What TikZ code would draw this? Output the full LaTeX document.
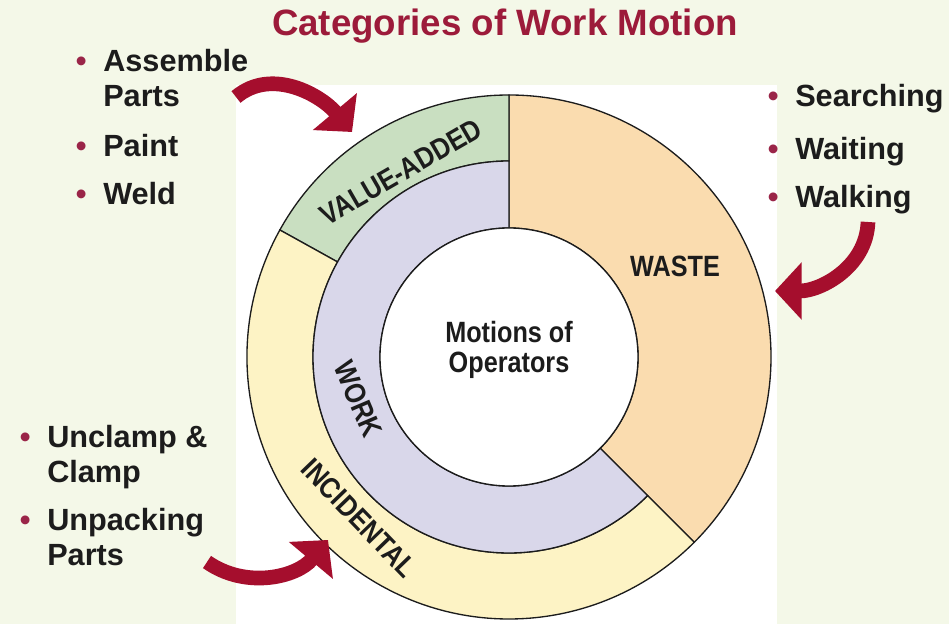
\documentclass[tikz,border=0pt]{standalone}
\usepackage{fontspec}
\setmainfont{Liberation Sans}
\newfontfamily\labelfont{Liberation Sans}[FakeStretch=0.86]
\usetikzlibrary{arrows.meta,calc}

\definecolor{bgcream}{HTML}{F4F8E8}
\definecolor{titlered}{HTML}{9C1B3A}
\definecolor{arrowred}{HTML}{A50E2D}
\definecolor{dotred}{HTML}{9A2548}
\definecolor{vagreen}{HTML}{C9DFC1}
\definecolor{wastepeach}{HTML}{FADCAF}
\definecolor{incyellow}{HTML}{FDF3C5}
\definecolor{worklilac}{HTML}{D9D7EA}
\definecolor{inkblack}{HTML}{1C1C1C}

\tikzset{
  ring/.style={draw=inkblack, line width=1pt},
  ringlabel/.style={font=\labelfont\bfseries\fontsize{22}{22}\selectfont, text=inkblack, inner sep=0pt},
  bullets/.style={anchor=base west, align=left, inner sep=0pt,
    font=\bfseries\fontsize{23}{26.25}\selectfont, text=inkblack},
  bigarrow/.style={draw=arrowred, line width=11pt, -{Triangle[width=42pt,length=20pt]}}
}
\newcommand{\bul}{\llap{\textcolor{dotred}{\textbullet}\hspace{12.5pt}}}

\begin{document}
\begin{tikzpicture}[x=0.75pt, y=0.75pt]
  \useasboundingbox (0,0) rectangle (949,624);
  \fill[bgcream] (0,0) rectangle (949,624);
  \fill[white] (236,0) rectangle (777,539);

  %% rings
  \coordinate (c) at (509,267);
  \filldraw[ring, fill=wastepeach] ($(c)+(90:262)$) arc[start angle=90, end angle=-45, radius=262]
    -- ($(c)+(-45:129)$) arc[start angle=-45, end angle=90, radius=129] -- cycle;
  \filldraw[ring, fill=vagreen] ($(c)+(90:262)$) arc[start angle=90, end angle=151, radius=262]
    -- ($(c)+(151:196)$) arc[start angle=151, end angle=90, radius=196] -- cycle;
  \filldraw[ring, fill=incyellow] ($(c)+(151:262)$) arc[start angle=151, end angle=315, radius=262]
    -- ($(c)+(315:196)$) arc[start angle=315, end angle=151, radius=196] -- cycle;
  \filldraw[ring, fill=worklilac] ($(c)+(90:196)$) arc[start angle=90, end angle=315, radius=196]
    -- ($(c)+(315:129)$) arc[start angle=315, end angle=90, radius=129] -- cycle;
  \filldraw[ring, fill=white] (c) circle[radius=129];

  %% labels
  \node[anchor=base, font=\bfseries\fontsize{27.5}{30}\selectfont, text=titlered] (title) at (505,588) {Categories of Work Motion};
  \node[ringlabel, align=center] (motions) at (509,274) {Motions of\\Operators};
  \node[ringlabel, anchor=base] (waste) at (675,347) {WASTE};
  \node[ringlabel, rotate=30] (valueadded) at (401,452) {VALUE-ADDED};
  \node[ringlabel, rotate=-67] (work) at (358,225) {WORK};
  \node[ringlabel, rotate=-46] (incidental) at (359,106) {INCIDENTAL};

  %% examples (base = last line)
  \node[bullets] (assemble) at (103,517) {\bul Assemble\\Parts};
  \node[bullets] (paint) at (103,467) {\bul Paint};
  \node[bullets] (weld) at (103,419) {\bul Weld};
  \node[bullets] (searching) at (795,517) {\bul Searching};
  \node[bullets] (waiting) at (795,464) {\bul Waiting};
  \node[bullets] (walking) at (795,416) {\bul Walking};
  \node[bullets] (unclamp) at (47,141) {\bul Unclamp \&\\Clamp};
  \node[bullets] (unpacking) at (47,58) {\bul Unpacking\\Parts};

  %% arrows
  \coordinate (fromva) at (236,527);
  \coordinate (tova) at (352,492);
  \coordinate (fromwaste) at (868,402);
  \coordinate (towaste) at (775,333);
  \coordinate (frominc) at (207,62);
  \coordinate (toinc) at (328,84);
  \draw[bigarrow] (fromva) to[out=40, in=130] (tova);
  \draw[bigarrow] (fromwaste) to[out=-92, in=0] (towaste);
  \draw[bigarrow] (frominc) to[out=-35, in=-130] (toinc);
\end{tikzpicture}
\end{document}
